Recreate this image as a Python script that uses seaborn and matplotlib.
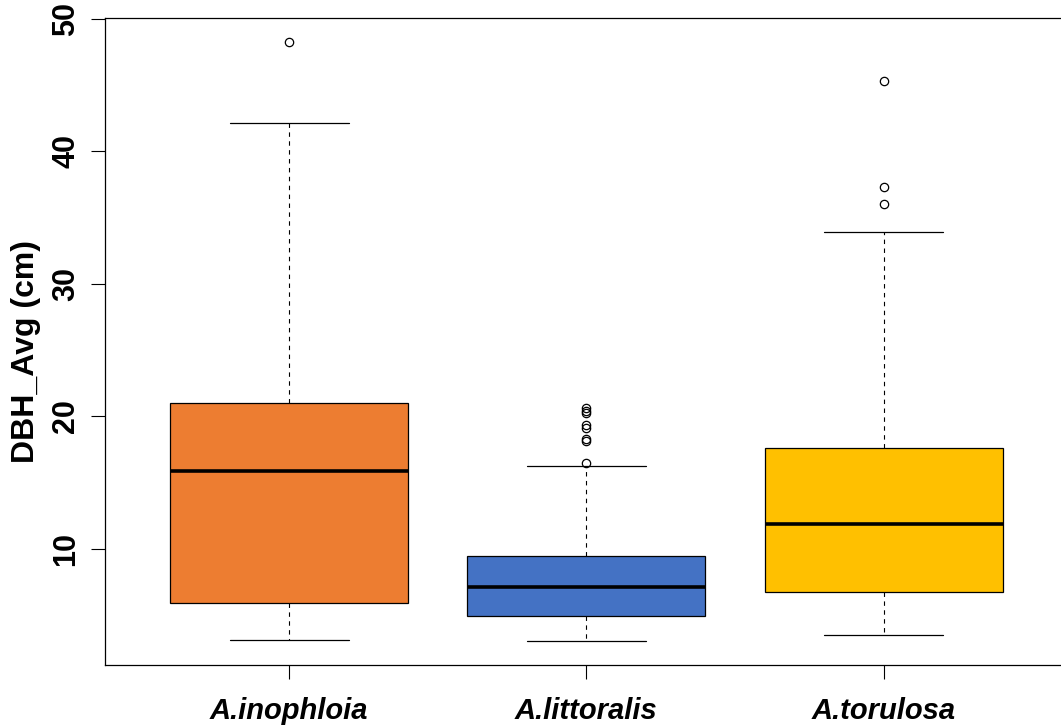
import matplotlib
matplotlib.use('Agg')
import matplotlib.pyplot as plt
import numpy as np
import pandas as pd
import seaborn as sns

sns.set_style('ticks')
plt.rcParams['font.family'] = ['Liberation Sans', 'DejaVu Sans']
plt.rcParams['text.color'] = 'black'
plt.rcParams['axes.labelcolor'] = 'black'
plt.rcParams['xtick.color'] = 'black'
plt.rcParams['ytick.color'] = 'black'

species = ['A.inophloia', 'A.littoralis', 'A.torulosa']
colors = ['#ED7D31', '#4472C4', '#FFC000']

# small samples (quartiles, whiskers, outliers)
dbh_inophloia = [3.13, 4.5, 5.89, 10.2, 15.83, 18.4, 20.96, 42.12, 48.24]
dbh_littoralis = [3.03, 3.4, 3.7, 3.9, 4.1, 4.3, 4.5, 4.7, 4.85, 4.95,
                  5.2, 5.5, 5.8, 6.1, 6.4, 6.7, 6.9, 7.0, 7.10,
                  7.4, 7.7, 8.0, 8.3, 8.6, 8.9, 9.1, 9.3, 9.47,
                  16.23, 16.5, 18.1, 18.3, 19.1, 19.3, 20.2, 20.4, 20.6]
dbh_torulosa = [3.51, 4.5, 5.3, 6.0, 6.72, 8.0, 9.5, 10.8, 11.84,
                13.0, 14.6, 16.2, 17.62, 33.9, 36.04, 37.3, 45.33]

df = pd.DataFrame({
    'species': [species[0]] * len(dbh_inophloia) + [species[1]] * len(dbh_littoralis)
               + [species[2]] * len(dbh_torulosa),
    'dbh': dbh_inophloia + dbh_littoralis + dbh_torulosa,
})

fig = plt.figure(figsize=(10.61, 7.25), dpi=100)
ax = fig.add_axes([0.0987, 0.0828, 0.908, 0.8924])

sns.boxplot(data=df, x='species', y='dbh', hue='species', palette=colors,
            order=species, hue_order=species, saturation=1, width=0.8,
            linecolor='black', linewidth=0.9, whis=1.5, legend=False, ax=ax,
            medianprops=dict(linewidth=2.6, color='black'),
            whiskerprops=dict(linestyle=(0, (4, 4)), linewidth=0.8),
            capprops=dict(linewidth=0.9),
            flierprops=dict(marker='o', markersize=6, markerfacecolor='none',
                            markeredgecolor='black', markeredgewidth=0.9))

ax.set_xlim(-0.62, 2.62)
ax.set_ylim(1.22, 50.05)
ax.set_yticks([10, 20, 30, 40, 50])
for side in ['top', 'right', 'left', 'bottom']:
    ax.spines[side].set_visible(True)
    ax.spines[side].set_linewidth(0.9)
    ax.spines[side].set_color('black')

ax.tick_params(axis='y', labelrotation=90, length=10, width=0.8, pad=7, labelsize=22)
ax.tick_params(axis='x', length=10, width=0.8, pad=13, labelsize=21)
for lab in ax.get_yticklabels():
    lab.set_fontweight('bold')
    lab.set_va('center')
for lab in ax.get_xticklabels():
    lab.set_fontweight('bold')
    lab.set_fontstyle('italic')

ax.set_xlabel('')
ax.set_ylabel('DBH_Avg (cm)', fontsize=23, fontweight='bold')
ax.yaxis.set_label_coords(-0.066, 0.485)

fig.savefig('out.png', dpi=100)
